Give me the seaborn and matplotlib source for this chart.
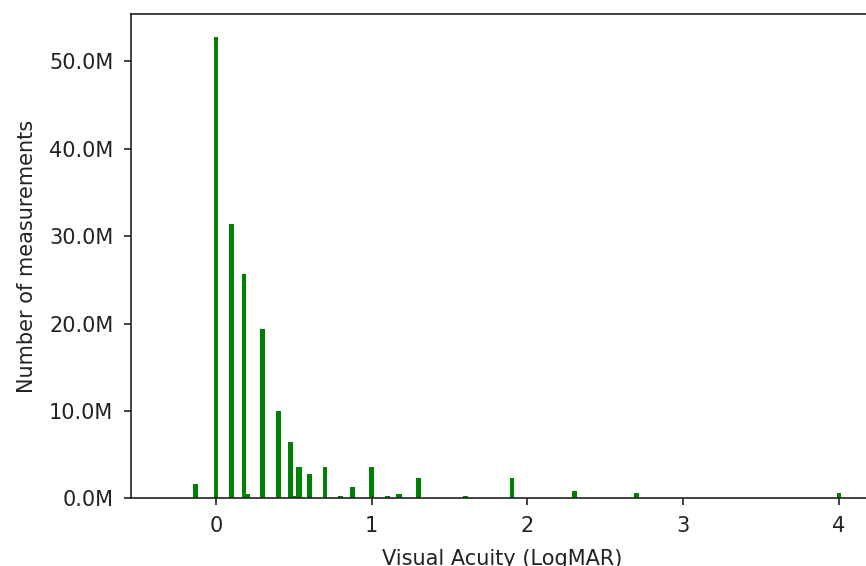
import matplotlib
matplotlib.use("Agg")
import matplotlib.pyplot as plt
from matplotlib.ticker import FuncFormatter
import pandas as pd
import seaborn as sns

# LogMAR values recorded and how many measurements fall on each
logmar = [-0.13, 0.0, 0.1, 0.18, 0.2, 0.3, 0.4, 0.48, 0.5, 0.53, 0.54, 0.6,
          0.7, 0.8, 0.875, 1.0, 1.1, 1.17, 1.18, 1.3, 1.6, 1.9, 2.3, 2.7, 4.0]
counts = [1_650_000, 52_750_000, 31_400_000, 25_700_000, 530_000, 19_400_000,
          9_950_000, 6_440_000, 270_000, 3_550_000, 3_550_000, 2_800_000,
          3_580_000, 280_000, 1_330_000, 3_580_000, 280_000, 550_000, 550_000,
          2_350_000, 300_000, 2_370_000, 880_000, 620_000, 620_000]
x_ticks = [0, 1, 2, 3, 4]

df = pd.DataFrame({"logmar": logmar, "count": counts})

plt.rcParams.update({
    "font.family": ["DejaVu Sans"],
    "font.size": 15,
    "axes.linewidth": 1.2,
    "axes.labelpad": 9,
    "xtick.major.size": 5.25,
    "ytick.major.size": 5.25,
    "xtick.major.width": 1.2,
    "ytick.major.width": 1.2,
    "xtick.major.pad": 7.5,
    "ytick.major.pad": 7.5,
    "axes.edgecolor": "#222222",
    "text.color": "#222222",
    "xtick.color": "#222222",
    "ytick.color": "#222222",
    "axes.labelcolor": "#222222",
})

fig = plt.figure(figsize=(8.66, 5.66), dpi=100)
ax = fig.add_axes([0.1513, 0.1193, 0.857, 0.856])

sns.barplot(data=df, x="logmar", y="count", native_scale=True, width=3.0,
            color="green", saturation=1, errorbar=None, linewidth=0, ax=ax)

ax.set_xlim(-0.546, 4.22)
ax.set_ylim(0, max(counts) * 1.05)
ax.set_xticks(x_ticks)
ax.set_xticklabels([str(t) for t in x_ticks])
ax.yaxis.set_major_formatter(FuncFormatter(lambda v, _: f"{v / 1e6:.1f}M"))
ax.set_xlabel("Visual Acuity (LogMAR)")
ax.set_ylabel("Number of measurements")

fig.savefig("out.png", dpi=100)
